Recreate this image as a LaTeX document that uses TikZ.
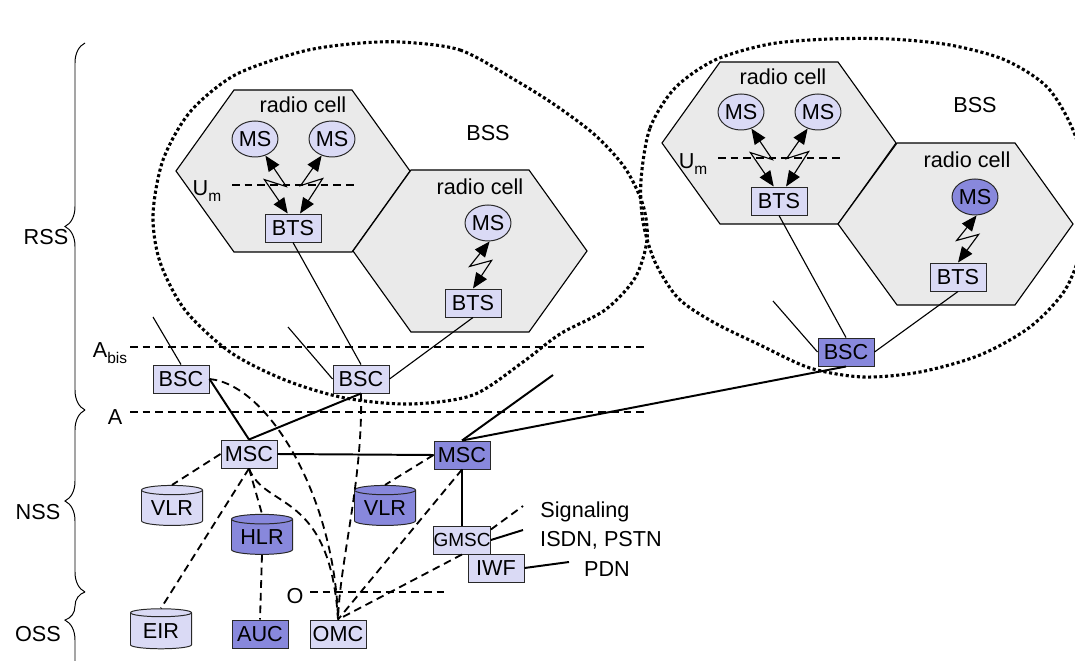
\documentclass[tikz,border=0pt]{standalone}
\usepackage{fontspec}
\setmainfont{Liberation Sans}
\usetikzlibrary{shapes.geometric, arrows.meta, decorations.pathreplacing}

\definecolor{lightblue}{RGB}{218,218,245}
\definecolor{darkblue}{RGB}{136,136,220}
\definecolor{cellgray}{RGB}{234,234,234}
\definecolor{edge}{RGB}{40,40,40}

\tikzstyle{lightbox} = [rectangle, minimum width=1.4cm, minimum height=0.7cm, inner sep=1pt, text centered, draw=edge, line width=0.7pt, fill=lightblue]
\tikzstyle{darkbox} = [lightbox, fill=darkblue]
\tikzstyle{station} = [ellipse, minimum width=1.125cm, minimum height=0.9cm, inner sep=0pt, draw=edge, line width=0.7pt, fill=lightblue]
\tikzstyle{darkstation} = [station, fill=darkblue]
\tikzstyle{lightdb} = [cylinder, shape border rotate=90, aspect=0.22, minimum width=1.525cm, minimum height=1cm, inner sep=0pt, draw=edge, line width=0.7pt, fill=lightblue]
\tikzstyle{darkdb} = [lightdb, fill=darkblue]
\tikzstyle{cell} = [draw=black, fill=cellgray, line width=0.8pt]
\tikzstyle{bss} = [line width=2.2pt, dash pattern=on 2.2pt off 1.8pt]
\tikzstyle{wire} = [line width=0.8pt]
\tikzstyle{trunk} = [line width=1.4pt]
\tikzstyle{signal} = [line width=1.3pt, dash pattern=on 5.5pt off 3.5pt]
\tikzstyle{radio} = [line width=0.8pt, >={Triangle[length=11pt,width=9pt]}, <->]
\tikzstyle{subsys} = [decorate, decoration={brace, amplitude=0.5cm}, line width=0.7pt]
\def\sub#1{\raisebox{-0.28em}{\fontsize{11}{12}\selectfont #1}}

\begin{document}
\begin{tikzpicture}[x=0.025cm, y=-0.025cm, font=\fontsize{15.4}{18}\selectfont]
\useasboundingbox (0,0) rectangle (1075,661);

% BSS areas
\draw [bss] plot[smooth cycle] coordinates {(400,42) (460,50) (515,80) (555,105) (595,135) (625,168) (643,205) (647,240) (635,278) (605,310) (560,334) (523,362) (473,395) (410,404) (345,398) (285,380) (230,352) (185,310) (160,262) (153,215) (163,160) (190,112) (235,75) (300,52) (350,44)};
\draw [bss] plot[smooth cycle] coordinates {(641,180) (650,128) (675,88) (715,60) (770,44) (830,39) (890,39) (950,45) (1005,60) (1048,88) (1075,135) (1086,190) (1082,245) (1065,290) (1030,327) (980,355) (920,372) (863,377) (810,368) (760,345) (713,322) (678,298) (655,262) (643,222)};

% radio cells
\draw [cell] (176,171) -- (234,90) -- (352,90) -- (410,171) -- (352,252) -- (234,252) -- cycle;
\draw [cell] (353,251) -- (411,170) -- (529,170) -- (587,251) -- (529,332) -- (411,332) -- cycle;
\draw [cell] (662,143) -- (720,62) -- (838,62) -- (896,143) -- (838,224) -- (720,224) -- cycle;
\draw [cell] (838,224) -- (897,143) -- (1015,143) -- (1073,224) -- (1015,305) -- (897,305) -- cycle;

\node (cell1) at (303,105) {radio cell};
\node (cell2) at (480,187) {radio cell};
\node (cell3) at (783,77) {radio cell};
\node (cell4) at (967,160) {radio cell};
\node (bss1) at (488,133) {BSS};
\node (bss2) at (975,105) {BSS};

% interfaces
\draw [signal] (232,185) -- (357,185);
\draw [signal] (718,158) -- (843,158);
\draw [signal] (130,347) -- (648,347);
\draw [signal] (130,412) -- (648,412);
\draw [signal] (310,592) -- (445,592);
\node (um1) at (207,191) {U\sub{m}};
\node (um2) at (693,164) {U\sub{m}};
\node (abis) at (110,353) {A\sub{bis}};
\node (a) at (115,417) {A};
\node (o) at (295,596) {O};

% subsystems
\draw [subsys] (85,410) -- (85,43);
\draw [subsys] (85,592) -- (85,410);
\draw [subsys, decoration={brace, amplitude=0.5cm, aspect=0.74}] (85,700) -- (85,592);
\node (rss) at (46,237) {RSS};
\node (nss) at (38,512) {NSS};
\node (oss) at (38,634) {OSS};

% radio subsystem
\node (ms1) [station] at (255,139) {MS};
\node (ms2) [station] at (332,139) {MS};
\node (bts1) [lightbox] at (293,228) {BTS};
\node (ms3) [station] at (488,223) {MS};
\node (bts2) [lightbox] at (473,303) {BTS};
\node (ms4) [station] at (741,112) {MS};
\node (ms5) [station] at (818,112) {MS};
\node (bts3) [lightbox] at (779,201) {BTS};
\node (ms6) [darkstation] at (975,197) {MS};
\node (bts4) [lightbox] at (958,277) {BTS};

\draw [radio] (ms1.-58) -- ++(21,31) -- ++(-22,-7) -- (bts1.110);
\draw [radio] (ms2.238) -- ++(-21,30) -- ++(22,-7) -- (bts1.64);
\draw [radio] (ms3.-85) -- ++(-20,25) -- ++(22,-6) -- (bts2.north);
\draw [radio] (ms4.-58) -- ++(21,31) -- ++(-22,-7) -- (bts3.110);
\draw [radio] (ms5.238) -- ++(-21,30) -- ++(22,-7) -- (bts3.64);
\draw [radio] (ms6.-85) -- ++(-20,25) -- ++(22,-6) -- (bts4.north);

\node (bsc1) [lightbox] at (181,379) {BSC};
\node (bsc2) [lightbox] at (361,379) {BSC};
\node (bsc3) [darkbox] at (846,352) {BSC};
\coordinate (bsc1in) at (153,317);
\coordinate (bsc2in) at (288,327);
\coordinate (bsc3in) at (773,301);

\draw [wire] (bsc1in) -- (bsc1.north);
\draw [wire] (bsc2in) -- (bsc2.west);
\draw [wire] (bts1.south) -- (bsc2.north);
\draw [wire] (bts2.south) -- (bsc2.east);
\draw [wire] (bsc3in) -- (bsc3.west);
\draw [wire] (bts3.south) -- (bsc3.north);
\draw [wire] (bts4.south) -- (bsc3.east);

% network and switching subsystem
\node (msc1) [lightbox] at (249,454) {MSC};
\node (msc2) [darkbox] at (462,455) {MSC};
\node (gmsc) [lightbox, font=\fontsize{13.5}{16}\selectfont] at (462,540) {\makebox[1.35cm]{GMSC}};
\node (iwf) [lightbox] at (496,568) {IWF};
\node (vlr1) [lightdb] at (172,508) {VLR};
\node (hlr) [darkdb] at (262,537) {HLR};
\node (vlr2) [darkdb] at (385,508) {VLR};
\coordinate (msc2in) at (553,375);
\coordinate (sigend) at (523,506);
\coordinate (isdnend) at (523,530);
\coordinate (pdnend) at (569,562);
\node (sig) at (585,512) {Signaling};
\node (isdn) at (601,540) {ISDN, PSTN};
\node (pdn) at (607,569) {PDN};

% operation subsystem
\node (eir) [lightdb] at (161,631) {EIR};
\node (auc) [darkbox] at (260,634) {AUC};
\node (omc) [lightbox] at (338,634) {OMC};

\draw [trunk] (bsc1.east) -- (msc1.north);
\draw [trunk] (bsc2.south) -- (msc1.north);
\draw [trunk] (msc1.east) -- (msc2.west);
\draw [trunk] (msc2in) -- (msc2.north);
\draw [trunk] (msc2.north) -- (bsc3.south);
\draw [trunk] (msc2.south) -- (gmsc.north);
\draw [trunk] (gmsc.east) -- (isdnend);
\draw [trunk] (iwf.east) -- (pdnend);

\draw [signal] (bsc1.east) .. controls (270,385) and (335,500) .. (omc.north);
\draw [signal] (bsc2.south) .. controls (363,480) and (340,560) .. (omc.north);
\draw [signal] (msc1.south) .. controls (265,510) and (330,490) .. (omc.north);
\draw [signal] (msc1.south) -- (hlr.north);
\draw [signal] (msc1.south) -- (eir.north);
\draw [signal] (msc1.west) -- (vlr1.north);
\draw [signal] (hlr.south) -- (auc.north);
\draw [signal] (msc2.west) -- (vlr2.north);
\draw [signal] (msc2.south) -- (omc.north);
\draw [signal] (gmsc.south) -- (omc.north);
\draw [signal] (gmsc.20) -- (sigend);

\end{tikzpicture}
\end{document}
